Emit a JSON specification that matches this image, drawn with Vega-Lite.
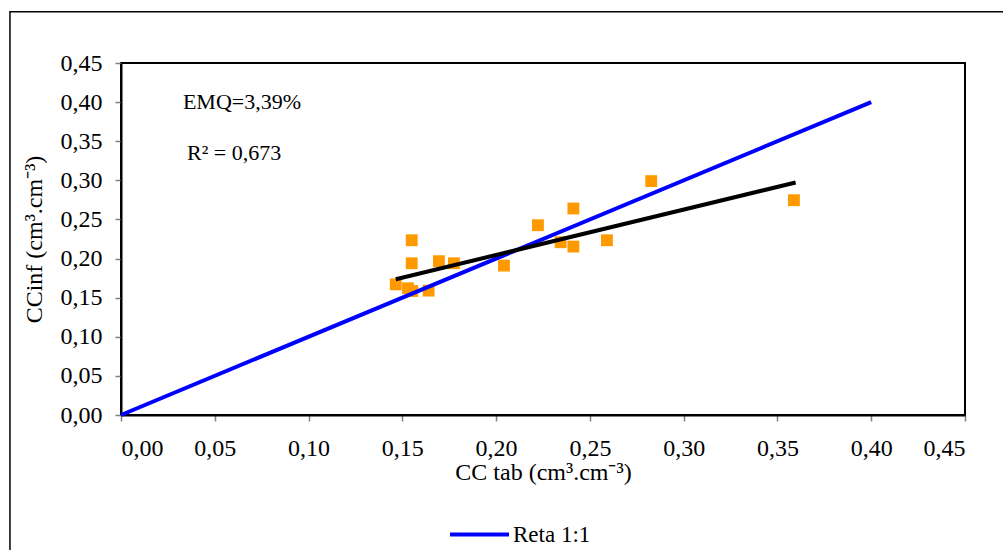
{
  "$schema": "https://vega.github.io/schema/vega-lite/v6.json",
  "width": 844,
  "height": 352,
  "autosize": "none",
  "padding": {"left": 121, "top": 63, "right": 38, "bottom": 135},
  "background": "white",
  "config": {
    "font": "Liberation Serif",
    "view": {"stroke": "black", "strokeWidth": 2},
    "axis": {
      "grid": false,
      "domainColor": "black",
      "domainWidth": 2,
      "tickColor": "#808080",
      "tickWidth": 1.5,
      "tickSize": 6,
      "labelFont": "Liberation Serif",
      "labelFontSize": 24,
      "labelColor": "black",
      "labelOverlap": false,
      "titleFont": "Liberation Serif",
      "titleFontSize": 24,
      "titleFontWeight": "normal",
      "titleColor": "black"
    },
    "legend": {
      "labelFont": "Liberation Serif",
      "labelFontSize": 23,
      "labelColor": "black",
      "padding": 0
    }
  },
  "datasets": {
    "obs": [
      {"x": 0.1465, "y": 0.167},
      {"x": 0.153, "y": 0.162},
      {"x": 0.1553, "y": 0.1585},
      {"x": 0.155, "y": 0.2234},
      {"x": 0.155, "y": 0.194},
      {"x": 0.1695, "y": 0.1966},
      {"x": 0.1775, "y": 0.194},
      {"x": 0.164, "y": 0.159},
      {"x": 0.2042, "y": 0.191},
      {"x": 0.2223, "y": 0.2426},
      {"x": 0.2344, "y": 0.2209},
      {"x": 0.2412, "y": 0.2153},
      {"x": 0.2412, "y": 0.264},
      {"x": 0.2591, "y": 0.2234},
      {"x": 0.2827, "y": 0.299},
      {"x": 0.3588, "y": 0.2746}
    ],
    "trend": [
      {"x": 0.1465, "y": 0.1735},
      {"x": 0.3597, "y": 0.2973}
    ],
    "reta": [
      {"x": 0, "y": 0, "serie": "Reta 1:1"},
      {"x": 0.4, "y": 0.4, "serie": "Reta 1:1"}
    ],
    "notes": [
      {"x": 0.033, "y": 0.391, "label": "EMQ=3,39%"},
      {"x": 0.0352, "y": 0.326, "label": "R² = 0,673"}
    ]
  },
  "layer": [
    {
      "data": {"values": [{}]},
      "mark": {"type": "rect", "fill": null, "stroke": "black", "strokeWidth": 1.5, "clip": false},
      "encoding": {
        "x": {"datum": -0.0592, "type": "quantitative"},
        "x2": {"datum": 0.48},
        "y": {"datum": 0.5154, "type": "quantitative"},
        "y2": {"datum": -0.2}
      }
    },
    {
      "data": {"name": "obs"},
      "mark": {"type": "square", "filled": true, "color": "#FF9900", "size": 140, "opacity": 1},
      "encoding": {
        "x": {
          "field": "x", "type": "quantitative",
          "scale": {"domain": [0, 0.45], "nice": false, "zero": false},
          "axis": {
            "values": [0, 0.05, 0.1, 0.15, 0.2, 0.25, 0.3, 0.35, 0.4, 0.45],
            "tickCount": 20,
            "labelExpr": "replace(format(datum.value, '.2f'), '.', ',')",
            "labelOverlap": false,
            "labelPadding": 15,
            "title": "CC tab (cm³.cm⁻³)",
            "titlePadding": 0
          }
        },
        "y": {
          "field": "y", "type": "quantitative",
          "scale": {"domain": [0, 0.45], "nice": false, "zero": false},
          "axis": {
            "values": [0, 0.05, 0.1, 0.15, 0.2, 0.25, 0.3, 0.35, 0.4, 0.45],
            "tickCount": 20,
            "labelExpr": "replace(format(datum.value, '.2f'), '.', ',')",
            "labelOverlap": false,
            "labelFlush": false,
            "labelPadding": 13,
            "title": "CCinf (cm³.cm⁻³)",
            "titlePadding": 14
          }
        }
      }
    },
    {
      "data": {"name": "reta"},
      "mark": {"type": "line", "strokeWidth": 4, "clip": false},
      "encoding": {
        "x": {"field": "x", "type": "quantitative"},
        "y": {"field": "y", "type": "quantitative"},
        "color": {
          "field": "serie", "type": "nominal",
          "scale": {"domain": ["Reta 1:1"], "range": ["#0000FF"]},
          "legend": {
            "title": null,
            "orient": "none",
            "legendX": 327,
            "legendY": 440,
            "symbolType": "stroke",
            "symbolSize": 3481,
            "symbolStrokeWidth": 4,
            "labelOffset": 2
          }
        }
      }
    },
    {
      "data": {"name": "trend"},
      "mark": {"type": "line", "strokeWidth": 4, "color": "black"},
      "encoding": {
        "x": {"field": "x", "type": "quantitative"},
        "y": {"field": "y", "type": "quantitative"}
      }
    },
    {
      "data": {"name": "notes"},
      "mark": {"type": "text", "align": "left", "baseline": "alphabetic", "font": "Liberation Serif", "fontSize": 22, "color": "black"},
      "encoding": {
        "x": {"field": "x", "type": "quantitative"},
        "y": {"field": "y", "type": "quantitative"},
        "text": {"field": "label", "type": "nominal"}
      }
    }
  ]
}
